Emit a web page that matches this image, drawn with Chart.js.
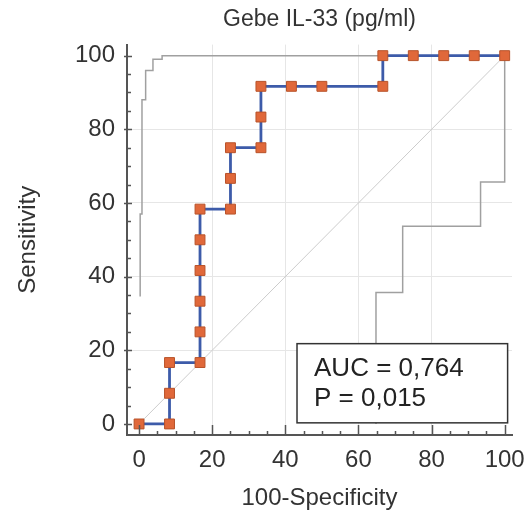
<!DOCTYPE html>
<html>
<head>
<meta charset="utf-8">
<script src="https://cdn.jsdelivr.net/npm/chart.js@4.4.0/dist/chart.umd.min.js"></script>
<style>
html, body { margin: 0; padding: 0; background: #fff; }
#wrap { width: 531px; height: 521px; }
</style>
</head>
<body>
<div id="wrap"><canvas id="roc"></canvas></div>
<script>
// ROC curve (100-Specificity, Sensitivity)
const rocX = [0, 8.33, 8.33, 8.33, 16.67, 16.67, 16.67, 16.67, 16.67, 16.67, 25, 25, 25, 33.33, 33.33, 33.33, 41.67, 50, 66.67, 66.67, 75, 83.33, 91.67, 100];
const rocY = [0, 0, 8.33, 16.67, 16.67, 25, 33.33, 41.67, 50, 58.33, 58.33, 66.67, 75, 75, 83.33, 91.67, 91.67, 91.67, 91.67, 100, 100, 100, 100, 100];

// confidence bounds
const upperX = [0.3, 0.3, 0.8, 0.8, 1.8, 1.8, 3.8, 3.8, 6.3, 6.3, 66.67];
const upperY = [34.6, 57, 57, 88, 88, 96, 96, 99, 99, 100, 100];
const lowerX = [64.8, 64.8, 72.1, 72.1, 93.4, 93.4, 100, 100];
const lowerY = [0, 35.7, 35.7, 53.7, 53.7, 65.7, 65.7, 100];

const refX = [0, 100];
const refY = [0, 100];

const tickValues = [0, 20, 40, 60, 80, 100];
const statLines = ['AUC = 0,764', 'P = 0,015'];

const FONT = '"Liberation Sans", Arial, sans-serif';

function pts(xs, ys) {
    return xs.map((x, i) => ({ x: x, y: ys[i] }));
}

function fixedTicks(scale) {
    scale.ticks = tickValues.map(v => ({ value: v }));
}

function gridColor(ctx) {
    const v = ctx.tick ? ctx.tick.value : null;
    if (v === 0 || v === 100) return 'rgba(0,0,0,0)';
    return '#e6e6e6';
}

// tick marks + stats box
const extras = {
    id: 'extras',
    afterDatasetsDraw(chart) {
        const c = chart.ctx;
        const xs = chart.scales.x, ys = chart.scales.y;
        const area = chart.chartArea;
        c.save();
        c.strokeStyle = '#555';
        c.lineWidth = 1.5;
        c.beginPath();
        for (let v = 0; v <= 100; v += 5) {
            const major = v % 20 === 0;
            const px = Math.round(xs.getPixelForValue(v)) + 0.5;
            c.moveTo(px, area.bottom);
            c.lineTo(px, area.bottom - (major ? 10 : 4));
            const py = Math.round(ys.getPixelForValue(v)) + 0.5;
            c.moveTo(area.left - (major ? 3 : 0), py);
            c.lineTo(area.left + (major ? 5 : 4), py);
        }
        c.stroke();

        // stats box
        const bx0 = xs.getPixelForValue(43.2), bx1 = xs.getPixelForValue(100.8);
        const by0 = ys.getPixelForValue(21.8), by1 = ys.getPixelForValue(0.3);
        c.fillStyle = '#fff';
        c.fillRect(bx0, by0, bx1 - bx0, by1 - by0);
        c.strokeStyle = '#333';
        c.lineWidth = 1.5;
        c.strokeRect(bx0, by0, bx1 - bx0, by1 - by0);
        c.fillStyle = '#222';
        c.font = '26px ' + FONT;
        c.textBaseline = 'alphabetic';
        c.fillText(statLines[0], bx0 + 17, by0 + 32);
        c.fillText(statLines[1], bx0 + 17, by0 + 62);
        c.restore();
    }
};

const ctx = document.getElementById('roc').getContext('2d');
window.chart = new Chart(ctx, {
    type: 'scatter',
    data: {
        datasets: [
            {
                label: 'ROC',
                data: pts(rocX, rocY),
                showLine: true,
                borderColor: '#3d5ba9',
                borderWidth: 2.8,
                pointStyle: 'rect',
                pointRadius: 7,
                pointBackgroundColor: '#e0683a',
                pointBorderColor: '#b8532a',
                pointBorderWidth: 1,
                order: 0
            },
            {
                label: 'upper',
                data: pts(upperX, upperY),
                showLine: true,
                borderColor: '#a0a0a0',
                borderWidth: 1.5,
                pointRadius: 0,
                order: 1
            },
            {
                label: 'lower',
                data: pts(lowerX, lowerY),
                showLine: true,
                borderColor: '#a0a0a0',
                borderWidth: 1.5,
                pointRadius: 0,
                order: 2
            },
            {
                label: 'reference',
                data: pts(refX, refY),
                showLine: true,
                borderColor: '#cccccc',
                borderWidth: 1,
                pointRadius: 0,
                order: 3
            }
        ]
    },
    options: {
        responsive: true,
        maintainAspectRatio: false,
        animation: false,
        layout: { padding: { left: 0, right: 19, top: 0, bottom: 0 } },
        plugins: {
            legend: { display: false },
            tooltip: { enabled: false },
            title: {
                display: true,
                text: 'Gebe IL-33 (pg/ml)',
                color: '#333',
                fullSize: false,
                font: { family: FONT, size: 23, weight: 'normal' },
                padding: { top: 6, bottom: 11 }
            }
        },
        scales: {
            x: {
                type: 'linear',
                min: -3.3,
                max: 102,
                afterBuildTicks: fixedTicks,
                afterFit: (s) => { s.height = 86; s.paddingLeft = 0; s.paddingRight = 0; },
                ticks: { color: '#333', font: { family: FONT, size: 24 }, padding: 11, maxRotation: 0 },
                grid: { color: gridColor, drawTicks: false },
                border: { color: '#555', width: 2 },
                title: {
                    display: true,
                    text: '100-Specificity',
                    color: '#333',
                    font: { family: FONT, size: 24 },
                    padding: { top: 0, bottom: 8 }
                }
            },
            y: {
                type: 'linear',
                min: -3,
                max: 103,
                afterBuildTicks: fixedTicks,
                afterFit: (s) => { s.width = 127; s.paddingTop = 0; s.paddingBottom = 0; },
                ticks: { color: '#333', font: { family: FONT, size: 24 }, padding: 12 },
                grid: { color: gridColor, drawTicks: false },
                border: { color: '#555', width: 2 },
                title: {
                    display: true,
                    text: 'Sensitivity',
                    color: '#333',
                    font: { family: FONT, size: 24 },
                    padding: { top: 14, bottom: 0 }
                }
            }
        }
    },
    plugins: [extras]
});
</script>
</body>
</html>
